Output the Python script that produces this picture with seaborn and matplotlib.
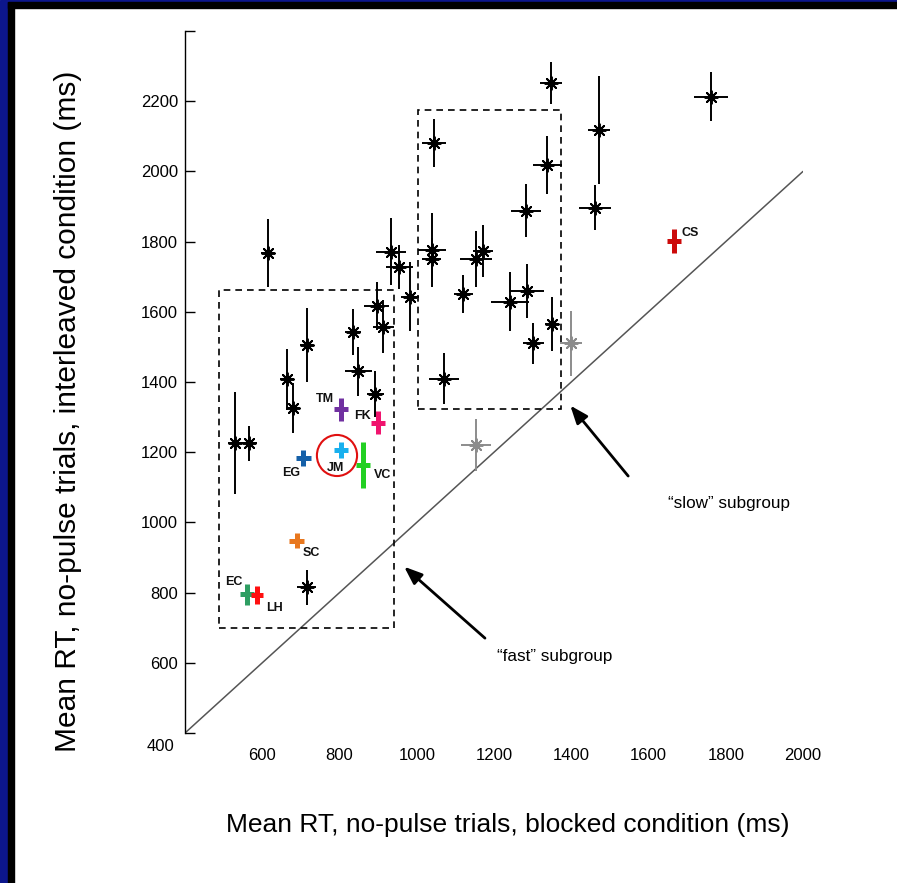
import numpy as np
import pandas as pd
import matplotlib
matplotlib.use("Agg")
import matplotlib.pyplot as plt
from matplotlib.patches import Rectangle, Ellipse
import seaborn as sns

# ---------------- data ----------------
# black subjects: mean RT blocked (x), interleaved (y), with SE bars
blk_x  = [529, 566, 614, 663, 679, 715, 715, 834, 849, 892, 896, 913, 933, 955, 983,
          1039, 1039, 1045, 1071, 1121, 1153, 1171, 1241, 1282, 1285, 1302, 1338, 1347,
          1349, 1462, 1472, 1762]
blk_y  = [1226, 1226, 1767, 1408, 1325, 1505, 815, 1542, 1431, 1365, 1617, 1558, 1771, 1728, 1643,
          1776, 1750, 2080, 1409, 1650, 1750, 1773, 1629, 1888, 1659, 1510, 2018, 2253,
          1565, 1897, 2118, 2213]
blk_xe = [18, 21, 17, 18, 16, 17, 25, 21, 35, 22, 32, 27, 38, 34, 24,
          36, 25, 32, 39, 25, 41, 26, 50, 39, 45, 28, 37, 28,
          18, 41, 28, 45]
blk_ye = [145, 50, 96, 87, 71, 105, 50, 65, 70, 65, 68, 75, 95, 63, 98,
          105, 60, 68, 73, 54, 80, 73, 85, 76, 77, 58, 83, 60,
          77, 65, 155, 70]

# gray subjects
gry_x  = [1399, 1153]
gry_y  = [1510, 1221]
gry_xe = [29, 39]
gry_ye = [93, 74]

# labelled (coloured) subjects
sub_names = ["TM", "FK", "EG", "JM", "VC", "SC", "EC", "LH", "CS"]
sub_x  = [803, 900, 706, 803, 862, 689, 560, 587, 1666]
sub_y  = [1322, 1284, 1184, 1206, 1163, 948, 795, 793, 1802]
sub_xe = [18, 18, 19, 18, 18, 19, 18, 15, 17]
sub_ye = [33, 33, 23, 23, 66, 21, 30, 25, 34]
sub_colors = ["#7030A0", "#F0146E", "#1560A8", "#18B0EE", "#22D022",
              "#E8771E", "#2E9E62", "#FF1010", "#CC0A0A"]
# label offsets in pixels (dx, dy: up positive) and horizontal alignment
sub_lbl = [(-7, 10, "right"), (-7, 7, "right"), (-3, -15, "right"), (-5, -18, "center"),
           (10, -10, "left"), (6, -12, "left"), (-4, 12.5, "right"), (9, -13, "left"),
           (8, 8, "left")]

xticks = [600, 800, 1000, 1200, 1400, 1600, 1800, 2000]
yticks = [400, 600, 800, 1000, 1200, 1400, 1600, 1800, 2000, 2200, 2400]
ytick_labels = ["", "600", "800", "1000", "1200", "1400", "1600", "1800", "2000", "2200", ""]

# ---------------- figure ----------------
sns.set_theme(style="white")
plt.rcParams["font.family"] = ["Liberation Sans", "DejaVu Sans"]
plt.rcParams["text.color"] = "black"
plt.rcParams["axes.labelcolor"] = "black"
plt.rcParams["xtick.color"] = "black"
plt.rcParams["ytick.color"] = "black"

W, H = 897, 883
PX = 0.72  # points per pixel
fig = plt.figure(figsize=(W / 100, H / 100), dpi=100)
fig.patch.set_facecolor("white")
ax = fig.add_axes([185 / W, 150 / H, 618 / W, 702 / H])
ax.set_facecolor("white")

# border decoration of the slide
navy = "#0C168C"
fig.add_artist(Rectangle((0, 0), 8 / W, 1, transform=fig.transFigure, color=navy, zorder=0))
fig.add_artist(Rectangle((8 / W, 0), 6 / W, 1 - 2 / H, transform=fig.transFigure, color="black", zorder=0))
fig.add_artist(Rectangle((8 / W, 1 - 2 / H), 1, 2 / H, transform=fig.transFigure, color=navy, zorder=0))
fig.add_artist(Rectangle((8 / W, 1 - 8 / H), 1, 6 / H, transform=fig.transFigure, color="black", zorder=0))

# diagonal identity line
diag = pd.DataFrame({"x": [400, 2000], "y": [400, 2000]})
sns.lineplot(data=diag, x="x", y="y", ax=ax, color="#555555", lw=1.1, zorder=1)

# dashed boxes (fast / slow subgroup)
ax.add_patch(Rectangle((488, 699), 941 - 488, 1662 - 699, fill=False, ls=(0, (4, 3)),
                       lw=1.2, ec="black", zorder=1))
ax.add_patch(Rectangle((1004, 1322), 1373 - 1004, 2175 - 1322, fill=False, ls=(0, (4, 3)),
                       lw=1.2, ec="black", zorder=1))

# black subjects
ax.errorbar(blk_x, blk_y, xerr=blk_xe, yerr=blk_ye, fmt="none", ecolor="black",
            elinewidth=1.4, capsize=0, zorder=3)
blk = pd.DataFrame({"x": blk_x, "y": blk_y})
sns.scatterplot(data=blk, x="x", y="y", ax=ax, marker=(8, 2, 0), s=85, color="black",
                linewidth=1.4, edgecolor="black", zorder=4, legend=False)

# gray subjects
ax.errorbar(gry_x, gry_y, xerr=gry_xe, yerr=gry_ye, fmt="none", ecolor="#8c8c8c",
            elinewidth=1.4, capsize=0, zorder=3)
gry = pd.DataFrame({"x": gry_x, "y": gry_y})
sns.scatterplot(data=gry, x="x", y="y", ax=ax, marker=(8, 2, 0), s=85, color="#8c8c8c",
                linewidth=1.4, edgecolor="#8c8c8c", zorder=4, legend=False)

# coloured subjects
for name, x, y, xe, ye, c, (dx, dy, ha) in zip(sub_names, sub_x, sub_y, sub_xe, sub_ye,
                                                 sub_colors, sub_lbl):
    ax.errorbar([x], [y], xerr=[xe], yerr=[ye], fmt="none", ecolor=c, elinewidth=3.6,
                capsize=0, zorder=5)
    ax.annotate(name, xy=(x, y), xytext=(dx * PX, dy * PX), textcoords="offset points",
                ha=ha, va="center", fontsize=9, fontweight="bold", color="#111111", zorder=6)

# red circle round JM
ax.add_patch(Ellipse((793.5, 1190.6), 104, 117, fill=False, ec="#E01010", lw=1.5, zorder=6))

# arrows and annotations
ax.annotate("", xy=(1393, 1339), xytext=(1552, 1126),
            arrowprops=dict(arrowstyle="-|>,head_length=0.9,head_width=0.35", color="black", lw=2))
ax.text(1650, 1055, "\u201cslow\u201d subgroup", fontsize=12.3, va="center", ha="left", color="black")
ax.annotate("", xy=(962, 879), xytext=(1182, 665),
            arrowprops=dict(arrowstyle="-|>,head_length=0.9,head_width=0.35", color="black", lw=2))
ax.text(1208, 617, "\u201cfast\u201d subgroup", fontsize=12.3, va="center", ha="left", color="black")

# axes styling
ax.set_xlim(400, 2000)
ax.set_ylim(400, 2400)
ax.set_xticks(xticks)
ax.set_xticklabels([str(t) for t in xticks], fontsize=12)
ax.set_yticks(yticks)
ax.set_yticklabels(ytick_labels, fontsize=12)
ax.tick_params(axis="x", length=0, pad=11)
ax.tick_params(axis="y", direction="in", length=7, width=1, left=True, pad=5, color="black")
ax.annotate("400", xy=(0, 400), xycoords=("axes fraction", "data"), xytext=(-8, -10),
            textcoords="offset points", ha="right", va="center", fontsize=12)
for s in ["top", "right", "bottom"]:
    ax.spines[s].set_visible(False)
ax.spines["left"].set_color("black")
ax.spines["left"].set_linewidth(1)

ax.set_xlabel("Mean RT, no-pulse trials, blocked condition (ms)", fontsize=19)
ax.set_ylabel("Mean RT, no-pulse trials, interleaved condition (ms)", fontsize=21.5)
ax.xaxis.label.set_va("center")
ax.yaxis.label.set_va("center")
ax.xaxis.set_label_coords((508 - 185) / 618, (883 - 825 - 150) / 702)
ax.yaxis.set_label_coords((68 - 185) / 618, (883 - 411 - 150) / 702)

fig.savefig("out.png", dpi=100, facecolor="white")
